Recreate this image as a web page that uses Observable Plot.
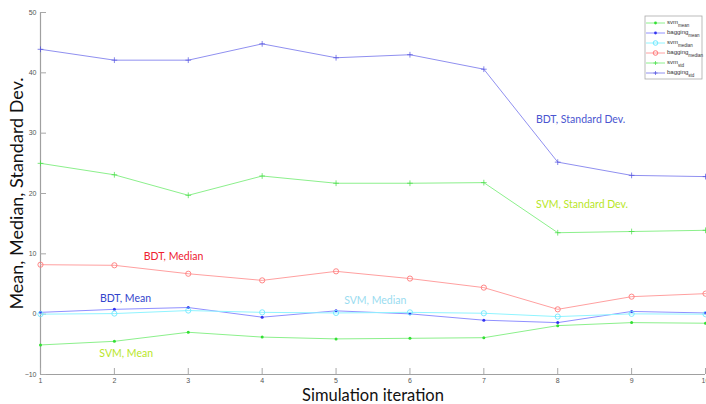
<!DOCTYPE html>
<html><head><meta charset="utf-8">
<script src="https://cdn.jsdelivr.net/npm/d3@7"></script>
<script src="https://cdn.jsdelivr.net/npm/@observablehq/plot@0.6"></script>
<style>body{margin:0;background:#fff}#c svg{display:block}</style>
</head><body><div id="c"></div>
<script>
const iterations = [1,2,3,4,5,6,7,8,9,10];
const svmMean = [-5.1,-4.5,-3.0,-3.8,-4.1,-4.0,-3.9,-1.9,-1.4,-1.5];
const baggingMean = [0.3,0.8,1.1,-0.5,0.55,0.05,-1.0,-1.4,0.45,0.2];
const svmMedian = [0,0.1,0.6,0.3,0.2,0.3,0.15,-0.4,0.05,0];
const baggingMedian = [8.2,8.1,6.7,5.6,7.1,5.9,4.4,0.8,2.9,3.4];
const svmStd = [25.0,23.1,19.7,22.9,21.7,21.7,21.8,13.5,13.7,13.9];
const baggingStd = [43.9,42.1,42.1,44.8,42.5,43.0,40.6,25.2,23.0,22.8];
const yTicks = [-10,0,10,20,30,40,50];
const xTicks = [1,2,3,4,5,6,7,8,9,10];

const series = [
  {key:"svm", sub:"mean", values:svmMean, line:"#8cf08c", mark:"#33e033", kind:"star"},
  {key:"bagging", sub:"mean", values:baggingMean, line:"#9090ff", mark:"#3333f0", kind:"star"},
  {key:"svm", sub:"median", values:svmMedian, line:"#90f4ff", mark:"#70e8ff", kind:"circle"},
  {key:"bagging", sub:"median", values:baggingMedian, line:"#ffa0a0", mark:"#ff7a7a", kind:"circle"},
  {key:"svm", sub:"std", values:svmStd, line:"#8cf08c", mark:"#44dd44", kind:"plus"},
  {key:"bagging", sub:"std", values:baggingStd, line:"#9090f0", mark:"#5050e0", kind:"plus"}
];

const annotations = [
  {text:"BDT, Standard Dev.", x:8.31, y:32.2, color:"#4a55d0"},
  {text:"SVM, Standard Dev.", x:8.33, y:18.1, color:"#b8e628"},
  {text:"BDT, Median", x:2.8, y:9.6, color:"#ee2030"},
  {text:"BDT, Mean", x:2.15, y:2.65, color:"#3344cc"},
  {text:"SVM, Median", x:5.53, y:2.3, color:"#9adcf0"},
  {text:"SVM, Mean", x:2.16, y:-6.5, color:"#b8e628"}
];

const marks = [];
for (const s of series) {
  const data = iterations.map((it,i)=>({x:it, y:s.values[i]}));
  marks.push(Plot.line(data, {x:"x", y:"y", stroke:s.line, strokeWidth:1}));
  if (s.kind === "star") {
    marks.push(Plot.dot(data, {x:"x", y:"y", r:1.5, fill:s.mark}));
  } else if (s.kind === "circle") {
    marks.push(Plot.dot(data, {x:"x", y:"y", r:2.6, stroke:s.mark, fill:"none", strokeWidth:0.9}));
  } else {
    marks.push(Plot.dot(data, {x:"x", y:"y", symbol:"plus", r:2.0, stroke:s.mark, strokeWidth:0.7}));
  }
}

const chart = Plot.plot({
  width:706, height:404,
  marginLeft:40, marginRight:1, marginTop:12, marginBottom:30,
  style:{fontFamily:"Liberation Sans, Arial, sans-serif", background:"#fff"},
  x:{domain:[1,10]},
  y:{domain:[-10,50]},
  marks:[
    Plot.ruleX([1], {stroke:"#a0a0a0", strokeWidth:1.2}),
    Plot.ruleY([-10], {stroke:"#a0a0a0", strokeWidth:1.2}),
    Plot.axisY(yTicks, {tickSize:-6, tickPadding:10, stroke:"#a8a8a8", fill:"#555", fontSize:7, label:null}),
    Plot.axisX(xTicks, {tickSize:-6, tickPadding:10, stroke:"#a8a8a8", fill:"#555", fontSize:7, label:null}),
    ...marks,
    Plot.text(annotations, {x:"x", y:"y", text:"text", fill:d=>d.color, fontSize:10.5, fontFamily:"Lato, sans-serif"}),
    Plot.text(["Mean, Median, Standard Dev."], {frameAnchor:"left", dx:-23, rotate:-90, textAnchor:"middle", lineAnchor:"middle", fontSize:18, fontFamily:"Lato, sans-serif", fill:"#111"}),
    Plot.text(["Simulation iteration"], {frameAnchor:"bottom", dy:21.5, lineAnchor:"middle", fontSize:16.5, fontFamily:"Lato, sans-serif", fill:"#111"})
  ]
});

// legend (inside plot, top right)
const svg = d3.select(chart);
const lg = svg.append("g").attr("transform","translate(645,16)");
lg.append("rect").attr("width",57).attr("height",63).attr("fill","#fff").attr("stroke","#aaa").attr("stroke-width",0.8);
series.forEach((s,i)=>{
  const yy = 7 + i*10;
  const g = lg.append("g").attr("transform",`translate(0,${yy})`);
  g.append("line").attr("x1",1).attr("x2",20).attr("stroke",s.line).attr("stroke-width",1);
  if (s.kind === "star") {
    g.append("circle").attr("cx",10.5).attr("r",1.4).attr("fill",s.mark);
  } else if (s.kind === "circle") {
    g.append("circle").attr("cx",10.5).attr("r",2.3).attr("fill","none").attr("stroke",s.mark);
  } else {
    g.append("path").attr("d","M8.5,0H12.5M10.5,-2V2").attr("stroke",s.mark).attr("stroke-width",0.7);
  }
  const t = g.append("text").attr("x",22).attr("y",1).attr("text-anchor","start").attr("font-size",6).attr("fill","#333").attr("font-family","Liberation Sans, Arial, sans-serif");
  t.append("tspan").text(s.key);
  t.append("tspan").attr("dy",2.5).attr("font-size",4.5).text(s.sub);
});

document.getElementById("c").appendChild(chart);
</script>
</body></html>
